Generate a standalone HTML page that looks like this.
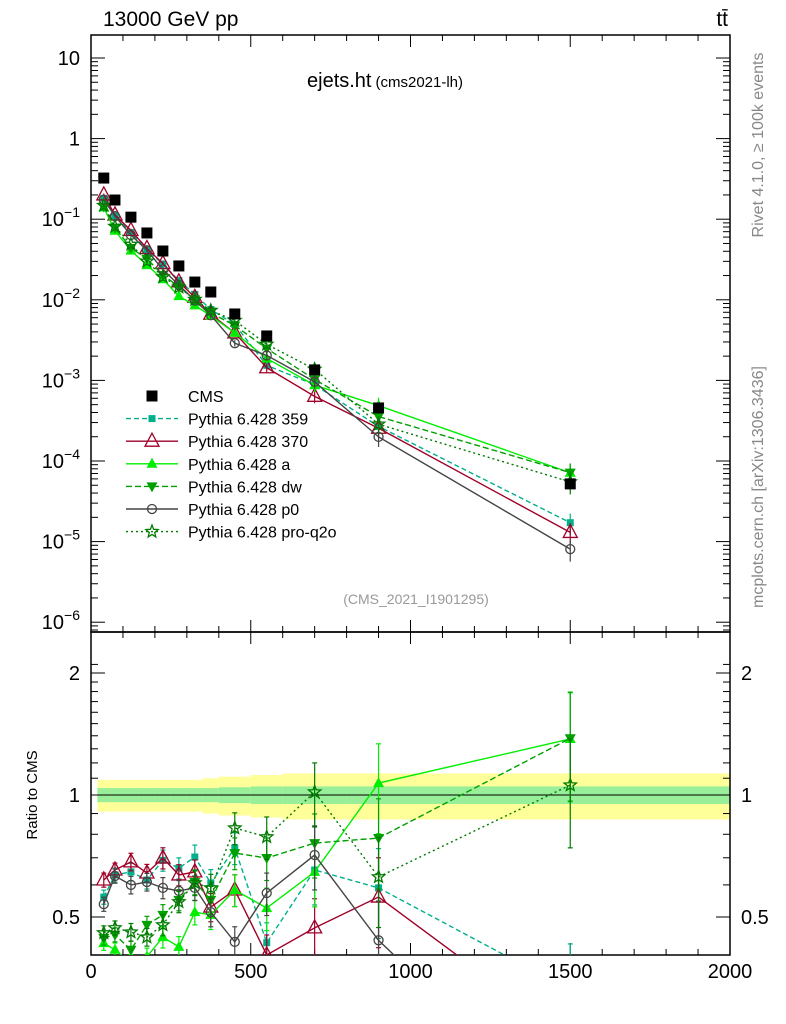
<!DOCTYPE html>
<html><head><meta charset="utf-8"><style>
html,body{margin:0;padding:0;background:#fff;width:786px;height:1024px;overflow:hidden}
svg{display:block;font-family:"Liberation Sans",sans-serif}
</style></head><body>
<svg id="c" width="786" height="1024" viewBox="0 0 786 1024"></svg>
<script>
const xs=[40,75,125,175,225,275,325,375,450,550,700,900,1500];
const cms=[0.324,0.173,0.106,0.0675,0.0403,0.0263,0.0166,0.0125,0.00667,0.00356,0.00135,0.000455,0.000052];
const r359=[0.56,0.635,0.646,0.617,0.69,0.66,0.703,0.606,0.74,0.432,0.653,0.59,0.33];
const r370=[0.617,0.653,0.684,0.642,0.699,0.635,0.646,0.529,0.583,0.403,0.47,0.56,0.25];
const rA=[0.431,0.415,0.385,0.399,0.446,0.422,0.514,0.506,0.583,0.526,0.646,1.07,1.375];
const rDW=[0.444,0.452,0.415,0.478,0.506,0.551,0.61,0.551,0.719,0.699,0.761,0.783,1.38];
const rP0=[0.538,0.631,0.6,0.61,0.59,0.58,0.59,0.514,0.434,0.573,0.711,0.438,0.155];
const rQ2O=[0.457,0.47,0.459,0.446,0.478,0.545,0.607,0.59,0.829,0.788,1.017,0.628,1.058];
const relErr=[0.04,0.04,0.05,0.05,0.06,0.06,0.07,0.08,0.09,0.12,0.18,0.25,0.3];
const bandY=[0.09,0.09,0.09,0.09,0.09,0.09,0.09,0.1,0.11,0.12,0.13,0.13,0.13];
const bandG=[0.04,0.04,0.04,0.04,0.04,0.04,0.04,0.04,0.045,0.05,0.05,0.05,0.05];
const binEdges=[20,60,100,150,200,250,300,350,400,500,600,800,1000,2000];
const xTicks=[0,500,1000,1500,2000];

const S=document.getElementById('c');const NS='http://www.w3.org/2000/svg';
function el(t,a,p){const e=document.createElementNS(NS,t);for(const k in a)e.setAttribute(k,a[k]);(p||S).appendChild(e);return e;}
const X0=91,X1=730,MT=35,MB=632,RT=632,RB=955;
const X=v=>X0+(X1-X0)*v/2000;
const Y=v=>58+(1-Math.log10(v))*80.6;
const YR=v=>795-122*Math.log2(v);
const clipM=el('clipPath',{id:'cm'});el('rect',{x:X0,y:MT,width:X1-X0,height:MB-MT},clipM);
const clipR=el('clipPath',{id:'cr'});el('rect',{x:X0,y:RT,width:X1-X0,height:RB-RT},clipR);

const gb=el('g',{'clip-path':'url(#cr)'});
for(let i=0;i<xs.length;i++){
 const a=X(binEdges[i]),b=X(binEdges[i+1]);
 const ry=el('rect',{x:a,y:YR(1+bandY[i]),width:b-a+0.5,height:YR(1-bandY[i])-YR(1+bandY[i]),fill:'#ffff99'},gb);
 
 const rg=el('rect',{x:a,y:YR(1+bandG[i]),width:b-a+0.5,height:YR(1-bandG[i])-YR(1+bandG[i]),fill:'#99ee99'},gb);
 
}
el('line',{x1:X0,x2:X1,y1:YR(1),y2:YR(1),stroke:'#000','stroke-width':1},gb);

for(const [t,b,n] of [[MT,MB,'main-frame'],[RT,RB,'ratio-frame']]){const r=el('rect',{x:X0,y:t,width:X1-X0,height:b-t,fill:'none',stroke:'#000','stroke-width':1.5});}
for(let v=0;v<=2000;v+=100){const maj=v%500==0,L=maj?12:6;
 for(const [t,b] of [[MT,MB],[RT,RB]]){el('line',{x1:X(v),x2:X(v),y1:t,y2:t+L,stroke:'#000'});el('line',{x1:X(v),x2:X(v),y1:b,y2:b-L,stroke:'#000'});}}
xTicks.forEach(v=>{const t=el('text',{x:X(v),y:978,'font-size':20,'text-anchor':'middle'});t.textContent=v;});
const yLab=['10','1','10⁻¹','10⁻²','10⁻³','10⁻⁴','10⁻⁵','10⁻⁶'];
for(let e=1;e>=-6;e--){const v=Math.pow(10,e),y=Y(v);
 el('line',{x1:X0,x2:X0+14,y1:y,y2:y,stroke:'#000'});el('line',{x1:X1,x2:X1-14,y1:y,y2:y,stroke:'#000'});
 for(let m=2;m<=9;m++){const y2=Y(Math.pow(10,e-1)*m);if(y2<MB){el('line',{x1:X0,x2:X0+7,y1:y2,y2:y2,stroke:'#000'});el('line',{x1:X1,x2:X1-7,y1:y2,y2:y2,stroke:'#000'});}}
 for(let m=2;m<=9;m++){const y3=Y(Math.pow(10,e)*m);if(e==1&&y3>MT){el('line',{x1:X0,x2:X0+7,y1:y3,y2:y3,stroke:'#000'});el('line',{x1:X1,x2:X1-7,y1:y3,y2:y3,stroke:'#000'});}}
}
yLab.forEach((s,i)=>{const e=1-i;const t=el('text',{x:80,y:Y(Math.pow(10,e))+7,'font-size':20,'text-anchor':'end'});
 if(e>=0)t.textContent=s;else{t.textContent='10';const sp=el('tspan',{dy:-9,'font-size':14},t);sp.textContent=String(e).replace('-','−');}
 });
for(let v=0.4;v<=2.2;v+=0.1){const y=YR(v);if(y<RT||y>RB)continue;const maj=Math.abs(v-0.5)<1e-6||Math.abs(v-1)<1e-6||Math.abs(v-2)<1e-6;
 el('line',{x1:X0,x2:X0+(maj?14:7),y1:y,y2:y,stroke:'#000'});el('line',{x1:X1,x2:X1-(maj?14:7),y1:y,y2:y,stroke:'#000'});}
[0.5,1,2].forEach(v=>{for(const [x,a] of [[80,'end'],[741,'start']]){const t=el('text',{x:x,y:YR(v)+7,'font-size':20,'text-anchor':a});t.textContent=v;}});

function txt(s,a,n){const t=el('text',a);t.textContent=s;return t;}
txt('13000 GeV pp',{x:103,y:26,'font-size':21},'energy-label');
txt('tt̄',{x:728,y:26,'font-size':21,'text-anchor':'end'},'process-label');
const ti=txt('ejets.ht',{x:307,y:87,'font-size':20},'plot-title');const ts=el('tspan',{'font-size':15,dx:4},ti);ts.textContent='(cms2021-lh)';
txt('(CMS_2021_I1901295)',{x:416,y:604,'font-size':14,fill:'#999','text-anchor':'middle'},'analysis-id');
txt('Rivet 4.1.0, ≥ 100k events',{x:0,y:0,'font-size':16,fill:'#888','text-anchor':'middle',transform:'translate(763,145) rotate(-90)'},'rivet-version');
txt('mcplots.cern.ch [arXiv:1306.3436]',{x:0,y:0,'font-size':16,fill:'#888','text-anchor':'middle',transform:'translate(763,487) rotate(-90)'},'mcplots-credit');
txt('Ratio to CMS',{x:0,y:0,'font-size':15,'text-anchor':'middle',transform:'translate(37,795) rotate(-90)'},'ratio-y-title');

function marker(type,x,y,c,g){
 if(type=='sq')return el('rect',{x:x-5.5,y:y-5.5,width:11,height:11,fill:c},g);
 if(type=='ssq')return el('rect',{x:x-3.5,y:y-3.5,width:7,height:7,fill:c},g);
 if(type=='otri')return el('polygon',{points:`${x},${y-8} ${x-7},${y+5} ${x+7},${y+5}`,fill:'none',stroke:c,'stroke-width':1.3},g);
 if(type=='tri')return el('polygon',{points:`${x},${y-6} ${x-5.5},${y+4} ${x+5.5},${y+4}`,fill:c},g);
 if(type=='itri')return el('polygon',{points:`${x},${y+6} ${x-5.5},${y-4} ${x+5.5},${y-4}`,fill:c},g);
 if(type=='circ')return el('circle',{cx:x,cy:y,r:4.5,fill:'none',stroke:c,'stroke-width':1.3},g);
 if(type=='star'){let p=[];for(let k=0;k<10;k++){const r=k%2?2.8:6.5,a=-Math.PI/2+k*Math.PI/5;p.push((x+r*Math.cos(a)).toFixed(1)+','+(y+r*Math.sin(a)).toFixed(1));}return el('polygon',{points:p.join(' '),fill:'none',stroke:c,'stroke-width':1.3},g);}
}
const series=[
 {n:'pythia-359',r:r359,c:'#00b08a',d:'5,3',m:'ssq',l:'Pythia 6.428 359'},
 {n:'pythia-370',r:r370,c:'#a00028',d:'',m:'otri',l:'Pythia 6.428 370'},
 {n:'pythia-a',r:rA,c:'#00ee00',d:'',m:'tri',l:'Pythia 6.428 a'},
 {n:'pythia-dw',r:rDW,c:'#00a000',d:'6,3',m:'itri',l:'Pythia 6.428 dw'},
 {n:'pythia-p0',r:rP0,c:'#444',d:'',m:'circ',l:'Pythia 6.428 p0'},
 {n:'pythia-pro-q2o',r:rQ2O,c:'#007a00',d:'2,3',m:'star',l:'Pythia 6.428 pro-q2o'}];
series.forEach(s=>{
 for(const [clip,fy,vals] of [['cm',Y,s.r.map((r,i)=>r*cms[i])],['cr',YR,s.r]]){
  const g=el('g',{'clip-path':`url(#${clip})`});
  el('polyline',{points:xs.map((x,i)=>X(x)+','+fy(vals[i])).join(' '),fill:'none',stroke:s.c,'stroke-width':1.4,'stroke-dasharray':s.d},g);
  xs.forEach((x,i)=>{const v=vals[i],e=relErr[i];const yt=fy(v*(1+e)),yb=fy(Math.max(v*(1-e),1e-9));
   el('line',{x1:X(x),x2:X(x),y1:yt,y2:yb,stroke:s.c,'stroke-width':1.2},g);
   if(clip=='cr'){el('line',{x1:X(x)-2.5,x2:X(x)+2.5,y1:yt,y2:yt,stroke:s.c,'stroke-width':1.2},g);el('line',{x1:X(x)-2.5,x2:X(x)+2.5,y1:yb,y2:yb,stroke:s.c,'stroke-width':1.2},g);}
   const m=marker(s.m,X(x),fy(v),s.c,g);});
 }
});
const gc=el('g',{'clip-path':'url(#cm)'});
xs.forEach((x,i)=>{const m=marker('sq',X(x),Y(cms[i]),'#000',gc);});

const lg=el('g',{});
const ents=[{l:'CMS',m:'sq',c:'#000',d:null}].concat(series.map(s=>({l:s.l,m:s.m,c:s.c,d:s.d})));
ents.forEach((e,i)=>{const y=396+i*22.6;const g=el('g',{},lg);
 if(e.d!==null)el('line',{x1:126,x2:178,y1:y,y2:y,stroke:e.c,'stroke-width':1.4,'stroke-dasharray':e.d},g);
 marker(e.m,152,y,e.c,g);
 const t=el('text',{x:188,y:y+6,'font-size':16},g);t.textContent=e.l;});
</script>
</body></html>
